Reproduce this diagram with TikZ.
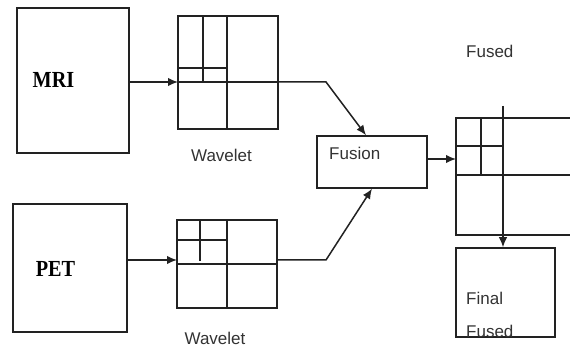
\documentclass[tikz,border=0pt]{standalone}
\usepackage{fontspec}
\setmainfont{Liberation Sans}
\newfontfamily\serifbold{Liberation Serif}
\usetikzlibrary{arrows.meta,calc}
\definecolor{ln}{HTML}{222222}
\definecolor{tx}{HTML}{333333}
\begin{document}
\begin{tikzpicture}[x=1pt,y=-1pt,
  ln/.style={draw=ln,line width=1.5pt},
  box/.style={ln,rectangle,inner sep=0pt},
  tip/.style={-{Latex[length=10pt,width=8.5pt]}},
  arr/.style={ln,tip},
  lbl/.style={inner sep=0pt,text=tx,font=\fontsize{17}{20}\selectfont},
  big/.style={inner sep=0pt,text=black,xscale=0.88,font=\serifbold\bfseries\fontsize{23}{25}\selectfont}]
\clip (0,0) rectangle (570,347);
\fill[white] (0,0) rectangle (570,347);
% MRI branch
\node[box,minimum width=112pt,minimum height=145pt] (mri) at (73,80.5) {};
\node[big] (mrit) at (53.5,80) {MRI};
\node[box,minimum width=100pt,minimum height=113pt] (mw) at (228,72.5) {};
\coordinate (mwm) at (178,82);
\draw[ln] (mw.west |- mwm) -- (mw.east |- mwm);
\draw[ln] (227,16) -- (227,129);
\draw[ln] (203,16) -- (203,82);
\draw[ln] (178,68) -- (227,68);
\node[lbl] (mwl) at (221.5,155) {Wavelet};
\draw[arr] (mri.east |- mwm) -- (mwm);
% PET branch
\node[box,minimum width=114pt,minimum height=128pt] (pet) at (70,268) {};
\node[big] (pett) at (55.5,269) {PET};
\node[box,minimum width=100pt,minimum height=88pt] (pw) at (227,264) {};
\draw[ln] (pw.west) -- (pw.east);
\draw[ln] (227,220) -- (227,308);
\draw[ln] (200,220) -- (200,261);
\draw[ln] (177,240) -- (227,240);
\node[lbl] (pwl) at (215,338) {Wavelet};
\coordinate (pwm) at (177,260);
\draw[arr] (pet.east |- pwm) -- (pwm);
% Fusion
\node[box,minimum width=110pt,minimum height=52pt] (fus) at (372,162) {};
\node[lbl,anchor=west] (fust) at (329,153) {Fusion};
\draw[arr] (mw.east |- mwm) -- (326,82) -- ($(fus.north)+(-6,0)$);
\draw[arr] (pw.east |- pwm) -- (326,260) -- (fus.south);
% Fused grid
\node[box,minimum width=124pt,minimum height=117pt] (fg) at (518,176.5) {};
\coordinate (fgin) at (456,159);
\draw[arr] (fus.east |- fgin) -- (fgin);
\draw[ln] (456,175) -- (580,175);
\draw[ln] (481,118) -- (481,175);
\draw[ln] (456,146) -- (503,146);
\node[lbl,anchor=west] (fl) at (466,51) {Fused};
% Final fused
\node[box,minimum width=99pt,minimum height=89pt] (fin) at (505.5,292.5) {};
\coordinate (ft) at (503,106);
\draw[arr] (ft) -- (ft |- fin.north);
\node[lbl,anchor=west] (fin1) at (466,298) {Final};
\node[lbl,anchor=west] (fin2) at (466,331) {Fused};
\end{tikzpicture}
\end{document}
